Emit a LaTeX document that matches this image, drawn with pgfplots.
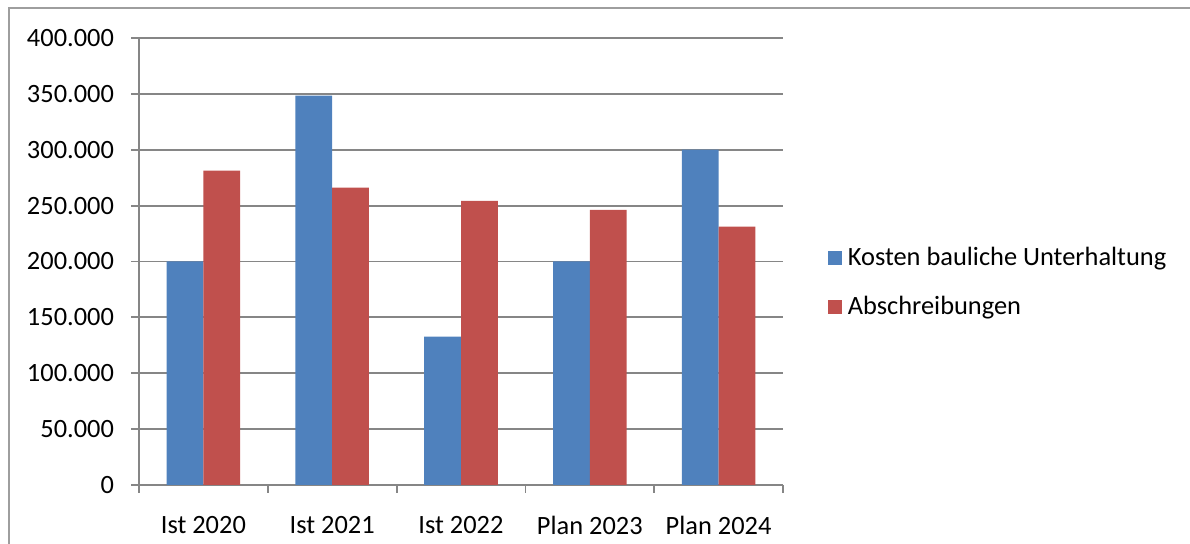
\documentclass[border=0pt]{standalone}
\usepackage{fontspec}
\setmainfont{Carlito}
\usepackage{pgfplots}
\pgfplotsset{compat=1.18}
\definecolor{xlblue}{HTML}{4F81BD}
\definecolor{xlred}{HTML}{C0504D}
\definecolor{xlgrid}{HTML}{868686}
\begin{document}
% 1 px of the 1190x544 reference = 0.5pt
\begin{tikzpicture}[font=\fontsize{13.2}{16}\selectfont]
\path[use as bounding box] (0pt,0pt) rectangle (595pt,272pt);
\draw[xlgrid!80,line width=1pt] (4.5pt,0pt) -- (4.5pt,268pt) -- (595pt,268pt);
\begin{axis}[
    at={(69.5pt,29.5pt)}, anchor=south west,
    scale only axis, width=322pt, height=223.5pt,
    ybar=0pt, bar width=0.2857,
    xmin=-0.5, xmax=4.5, ymin=0, ymax=400000,
    xtick={0,1,2,3,4},
    xticklabels={Ist 2020,Ist 2021,Ist 2022,Plan 2023,Plan 2024},
    minor xtick={-0.5,0.5,1.5,2.5,3.5,4.5},
    ytick={0,50000,...,400000},
    axis x line*=bottom, axis y line*=left,
    axis line style={xlgrid,line width=0.9pt},
    every tick/.style={xlgrid,line width=0.9pt},
    tick align=outside, major tick length=4pt, minor tick length=4pt,
    major x tick style={draw=none},
    ymajorgrids, grid style={xlgrid,line width=0.9pt},
    scaled y ticks=false,
    /pgf/number format/fixed, /pgf/number format/1000 sep={.},
    /pgf/number format/assume math mode=true,
    yticklabel style={xshift=-5pt},
    xticklabel style={yshift=-8pt},
    legend style={draw=none,fill=none,at={(1.069,0.540)},anchor=north west,
        row sep=11pt,inner sep=0pt,
        nodes={inner sep=1.5pt,inner xsep=3pt}},
    legend cell align=left,
    legend image code/.code={\fill[#1,draw=none] (0pt,-3.5pt) rectangle (7pt,3.5pt);},
]
\addplot[fill=xlblue,draw=none] coordinates {(0,200000) (1,348500) (2,132700) (3,200000) (4,300000)};
\addplot[fill=xlred,draw=none] coordinates {(0,281300) (1,266000) (2,254200) (3,246200) (4,231200)};
\legend{Kosten bauliche Unterhaltung,Abschreibungen}
\end{axis}
\end{tikzpicture}
\end{document}
